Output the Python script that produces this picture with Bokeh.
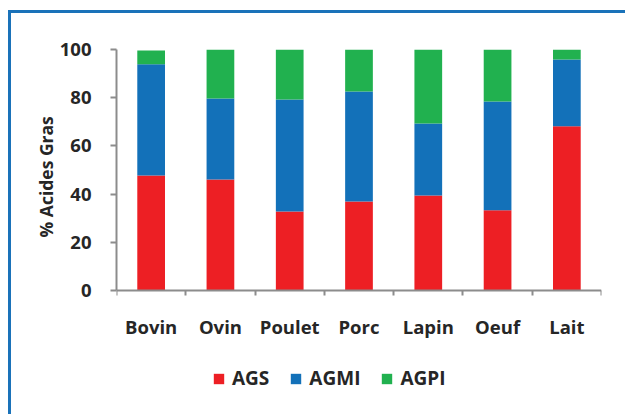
from bokeh.plotting import figure
from bokeh.models import (ColumnDataSource, Range1d, FixedTicker, Legend, LegendItem, Title)
from bokeh.embed import file_html
from bokeh.resources import INLINE

categories = ["Bovin", "Ovin", "Poulet", "Porc", "Lapin", "Oeuf", "Lait"]
ags = [47.7, 46.1, 32.8, 36.9, 39.4, 33.3, 68.2]
agmi = [46.2, 33.6, 46.5, 45.7, 29.9, 45.1, 27.7]
agpi = [5.7, 20.3, 20.7, 17.4, 30.7, 21.6, 4.1]
series = ["AGS", "AGMI", "AGPI"]
colors = ["#ED1F24", "#1371B9", "#21B14F"]
y_ticks = [0, 20, 40, 60, 80, 100]
y_label = "% Acides Gras"

FONT = "Open Sans"
TXT = "#262626"
AX = "#8C8C8C"

# layout: frame spans from y=100 (top) down past the legend area; x axis pinned at y=0
Y_LOW = -52.7

xs = [i + 0.5 for i in range(len(categories))]
src = ColumnDataSource(dict(x=xs, AGS=ags, AGMI=agmi, AGPI=agpi))

p = figure(width=617, height=404, x_range=Range1d(0, len(categories)),
           y_range=Range1d(Y_LOW, 100), output_backend="svg", toolbar_location=None,
           min_border_left=105, min_border_top=36, min_border_right=27,
           min_border_bottom=0)
p.styles = {"margin-left": "8px", "margin-top": "10px",
            "border-left": "3px solid #1A72B9", "border-top": "3px solid #1A72B9"}

rs = p.vbar_stack(series, x="x", width=0.40, color=colors, line_color=None, source=src)

p.xgrid.visible = False
p.ygrid.visible = False
p.outline_line_color = None

xa = p.xaxis[0]
xa.fixed_location = 0
xa.ticker = FixedTicker(ticks=xs, minor_ticks=list(range(len(categories) + 1)))
xa.major_label_overrides = {x: c for x, c in zip(xs, categories)}
xa.major_tick_line_color = None
xa.major_tick_out = 0
xa.major_tick_in = 0
xa.minor_tick_out = 5
xa.minor_tick_in = 0
xa.minor_tick_line_color = AX
xa.minor_tick_line_width = 2
xa.axis_line_color = AX
xa.axis_line_width = 2
xa.major_label_standoff = 19
xa.major_label_text_font = FONT
xa.major_label_text_font_style = "bold"
xa.major_label_text_font_size = "18.5px"
xa.major_label_text_color = TXT

ya = p.yaxis[0]
ya.bounds = (0, 100)
ya.ticker = FixedTicker(ticks=y_ticks)
ya.minor_tick_line_color = None
ya.major_tick_out = 6
ya.major_tick_in = 0
ya.major_tick_line_color = AX
ya.major_tick_line_width = 2
ya.axis_line_color = AX
ya.axis_line_width = 2
ya.major_label_standoff = 19
ya.major_label_text_font = FONT
ya.major_label_text_font_style = "bold"
ya.major_label_text_font_size = "18.5px"
ya.major_label_text_color = TXT

ytitle = Title(text=y_label, align="left", offset=180, standoff=-3,
               text_font=FONT, text_font_style="bold", text_font_size="17.5px",
               text_color=TXT)
p.add_layout(ytitle, "left")

legend = Legend(items=[LegendItem(label=s, renderers=[r]) for s, r in zip(series, rs)],
                orientation="horizontal", location=(96, 26),
                glyph_width=13, glyph_height=13, label_height=13,
                label_standoff=7, spacing=20, padding=0, margin=0,
                border_line_color=None, background_fill_alpha=0,
                label_text_font=FONT, label_text_font_style="bold",
                label_text_font_size="19px", label_text_color=TXT)
p.add_layout(legend, "center")

open("out.html", "w").write(file_html(p, INLINE))
